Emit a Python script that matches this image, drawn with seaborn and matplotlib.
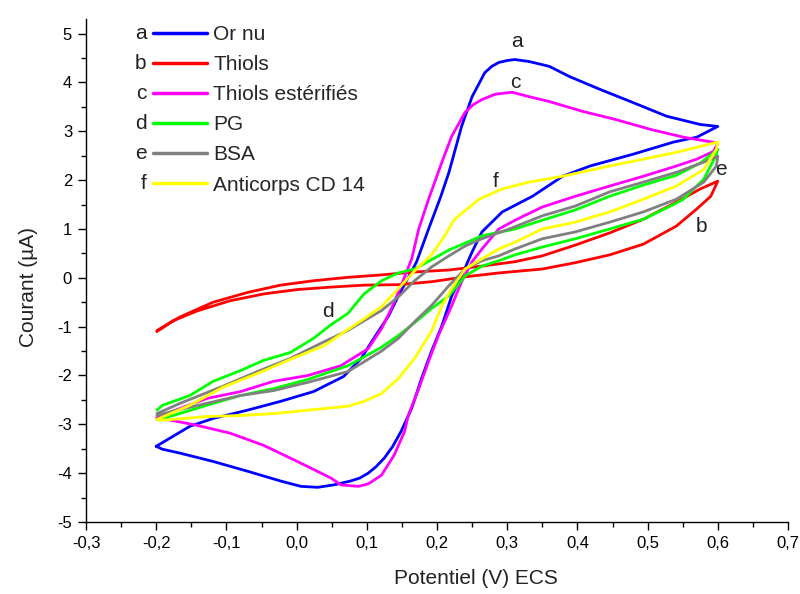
import matplotlib
matplotlib.use("Agg")
import matplotlib.pyplot as plt
from matplotlib.lines import Line2D
from matplotlib.ticker import FixedLocator, MultipleLocator, FuncFormatter
import seaborn as sns
import pandas as pd

# Cyclic voltammograms: forward sweep (-0.2 -> 0.6 V) followed by the return sweep
or_nu_v = [-0.2, -0.152, -0.119, -0.070, -0.023, 0.024, 0.067, 0.092, 0.110, 0.131, 0.145, 0.171, 0.188,
           0.205, 0.217, 0.235, 0.250, 0.260, 0.268, 0.278, 0.288, 0.300, 0.311, 0.331, 0.360, 0.389, 0.432,
           0.479, 0.527, 0.575, 0.6,
           0.570, 0.537, 0.479, 0.418, 0.379, 0.336, 0.293, 0.264, 0.250, 0.235, 0.221, 0.207, 0.192, 0.178,
           0.164, 0.149, 0.137, 0.125, 0.113, 0.102, 0.090, 0.077, 0.053, 0.030, 0.006, -0.023, -0.070, -0.119,
           -0.166, -0.191, -0.2]
or_nu_i = [-3.45, -3.04, -2.88, -2.71, -2.53, -2.33, -2.02, -1.65, -1.24, -0.78, -0.37, 0.33, 1.00,
           1.65, 2.16, 3.10, 3.71, 3.98, 4.20, 4.33, 4.41, 4.45, 4.47, 4.43, 4.33, 4.12, 3.86,
           3.59, 3.31, 3.14, 3.10,
           2.88, 2.78, 2.53, 2.29, 2.08, 1.67, 1.35, 0.94, 0.53, 0.04, -0.37, -0.98, -1.51, -2.06,
           -2.67, -3.14, -3.45, -3.69, -3.87, -4.00, -4.10, -4.16, -4.24, -4.29, -4.27, -4.16, -3.96, -3.76,
           -3.59, -3.51, -3.45]

thiols_v = [-0.199, -0.166, -0.119, -0.070, -0.023, 0.024, 0.073, 0.121, 0.168, 0.217, 0.264, 0.311, 0.350,
            0.397, 0.446, 0.494, 0.541, 0.575, 0.6,
            0.590, 0.570, 0.541, 0.494, 0.446, 0.397, 0.350, 0.288, 0.240, 0.192, 0.145, 0.096, 0.049,
            0.001, -0.047, -0.095, -0.142, -0.176, -0.199]
thiols_i = [-1.08, -0.80, -0.50, -0.30, -0.15, -0.06, 0.01, 0.06, 0.12, 0.16, 0.24, 0.33, 0.45,
            0.67, 0.92, 1.20, 1.55, 1.82, 1.98,
            1.67, 1.41, 1.06, 0.69, 0.47, 0.31, 0.18, 0.10, 0.02, -0.08, -0.14, -0.15, -0.19,
            -0.24, -0.33, -0.47, -0.68, -0.88, -1.10]

ester_v = [-0.199, -0.176, -0.128, -0.080, -0.033, 0.016, 0.063, 0.102, 0.121, 0.135, 0.149, 0.164, 0.174,
           0.188, 0.207, 0.221, 0.240, 0.252, 0.264, 0.283, 0.307, 0.331, 0.360, 0.407, 0.455, 0.504, 0.551,
           0.6,
           0.594, 0.570, 0.541, 0.494, 0.446, 0.397, 0.350, 0.314, 0.288, 0.264, 0.250, 0.235, 0.221, 0.202,
           0.188, 0.174, 0.159, 0.154, 0.139, 0.121, 0.102, 0.088, 0.063, 0.049, 0.001, -0.047, -0.095,
           -0.142, -0.199]
ester_i = [-2.88, -2.73, -2.47, -2.33, -2.12, -2.00, -1.80, -1.45, -1.04, -0.63, -0.16, 0.39, 1.00,
           1.61, 2.37, 2.90, 3.39, 3.55, 3.65, 3.76, 3.80, 3.71, 3.61, 3.41, 3.24, 3.04, 2.88,
           2.76,
           2.59, 2.43, 2.29, 2.08, 1.88, 1.67, 1.45, 1.20, 1.00, 0.59, 0.33, -0.08, -0.57, -1.18,
           -1.71, -2.27, -2.82, -3.14, -3.63, -4.04, -4.22, -4.27, -4.24, -4.10, -3.76, -3.43, -3.18,
           -3.02, -2.86]

pg_v = [-0.199, -0.191, -0.152, -0.119, -0.080, -0.047, -0.009, 0.024, 0.049, 0.073, 0.096, 0.121, 0.145,
        0.168, 0.192, 0.217, 0.240, 0.264, 0.311, 0.350, 0.397, 0.446, 0.494, 0.541, 0.575, 0.6,
        0.597, 0.580, 0.551, 0.541, 0.494, 0.446, 0.397, 0.350, 0.311, 0.288, 0.264, 0.240, 0.217, 0.192,
        0.168, 0.145, 0.121, 0.096, 0.073, 0.016, -0.033, -0.080, -0.128, -0.176, -0.199]
pg_i = [-2.71, -2.61, -2.41, -2.12, -1.90, -1.69, -1.53, -1.24, -0.96, -0.73, -0.33, -0.06, 0.10,
        0.18, 0.37, 0.57, 0.71, 0.86, 1.00, 1.18, 1.39, 1.67, 1.90, 2.10, 2.35, 2.63,
        2.49, 2.02, 1.61, 1.53, 1.20, 1.00, 0.80, 0.63, 0.47, 0.35, 0.24, 0.04, -0.37, -0.63,
        -0.92, -1.18, -1.42, -1.62, -1.80, -2.08, -2.27, -2.41, -2.61, -2.82, -2.90]

bsa_v = [-0.199, -0.166, -0.105, -0.056, -0.009, 0.039, 0.073, 0.096, 0.121, 0.145, 0.168, 0.192, 0.217,
         0.240, 0.264, 0.303, 0.350, 0.397, 0.446, 0.494, 0.541, 0.580, 0.6,
         0.598, 0.580, 0.541, 0.494, 0.446, 0.397, 0.350, 0.311, 0.288, 0.264, 0.240, 0.217, 0.192, 0.168,
         0.145, 0.121, 0.096, 0.073, 0.016, -0.033, -0.080, -0.128, -0.176, -0.199]
bsa_i = [-2.78, -2.57, -2.22, -1.92, -1.65, -1.31, -1.08, -0.88, -0.67, -0.39, -0.06, 0.22, 0.45,
         0.65, 0.80, 1.00, 1.27, 1.47, 1.76, 1.96, 2.16, 2.37, 2.49,
         2.29, 1.96, 1.61, 1.35, 1.14, 0.94, 0.80, 0.59, 0.45, 0.35, 0.18, -0.16, -0.57, -0.90,
         -1.24, -1.50, -1.72, -1.92, -2.14, -2.31, -2.41, -2.57, -2.73, -2.82]

cd14_v = [-0.199, -0.152, -0.105, -0.056, -0.009, 0.039, 0.073, 0.096, 0.121, 0.145, 0.168, 0.192, 0.211,
          0.225, 0.260, 0.293, 0.331, 0.379, 0.446, 0.494, 0.541, 0.6,
          0.598, 0.580, 0.541, 0.494, 0.446, 0.397, 0.350, 0.311, 0.288, 0.264, 0.240, 0.221, 0.207, 0.192,
          0.168, 0.145, 0.121, 0.096, 0.073, 0.016, -0.033, -0.080, -0.128, -0.195]
cd14_i = [-2.90, -2.61, -2.24, -1.96, -1.67, -1.39, -1.06, -0.84, -0.59, -0.22, 0.14, 0.47, 0.86,
          1.20, 1.61, 1.82, 1.96, 2.08, 2.29, 2.43, 2.57, 2.78,
          2.63, 2.22, 1.88, 1.61, 1.35, 1.14, 1.00, 0.73, 0.59, 0.39, 0.18, -0.22, -0.57, -1.10,
          -1.65, -2.06, -2.37, -2.53, -2.63, -2.71, -2.78, -2.82, -2.84, -2.92]

letters = ["a", "b", "c", "d", "e", "f"]
names = ["Or nu", "Thiols", "Thiols estérifiés", "PG", "BSA", "Anticorps CD 14"]
colors = ["#0000FF", "#FF0000", "#FF00FF", "#00FF00", "#808080", "#FFFF00"]
curves_v = [or_nu_v, thiols_v, ester_v, pg_v, bsa_v, cd14_v]
curves_i = [or_nu_i, thiols_i, ester_i, pg_i, bsa_i, cd14_i]

# letter tags placed next to the curves
tag_v = [0.314, 0.577, 0.311, 0.044, 0.605, 0.283]
tag_i = [4.84, 1.06, 4.00, -0.69, 2.22, 1.98]

x_ticks = [-0.3, -0.2, -0.1, 0.0, 0.1, 0.2, 0.3, 0.4, 0.5, 0.6, 0.7]
y_ticks = [-5, -4, -3, -2, -1, 0, 1, 2, 3, 4, 5]

frames = []
for name, v, i in zip(names, curves_v, curves_i):
    frames.append(pd.DataFrame({"V": v, "I": i, "curve": name}))
df = pd.concat(frames, ignore_index=True)

sns.set_theme(style="ticks")
plt.rcParams["font.family"] = ["Liberation Sans", "DejaVu Sans"]

fig = plt.figure(figsize=(8.0, 5.94), dpi=100)
ax = fig.add_axes([86 / 800, 72 / 594, 702 / 800, 503 / 594])

sns.lineplot(data=df, x="V", y="I", hue="curve", hue_order=names, palette=colors,
             sort=False, estimator=None, units="curve", linewidth=2.0, legend=False, ax=ax)

ax.set_xlim(-0.3, 0.7)
ax.set_ylim(-5, 5.3)
ax.xaxis.set_major_locator(FixedLocator(x_ticks))
ax.xaxis.set_minor_locator(MultipleLocator(0.05))
ax.yaxis.set_major_locator(FixedLocator(y_ticks))
ax.yaxis.set_minor_locator(MultipleLocator(0.5))
ax.xaxis.set_major_formatter(FuncFormatter(lambda x, p: f"{x:.1f}".replace(".", ",")))
ax.yaxis.set_major_formatter(FuncFormatter(lambda y, p: f"{y:.0f}"))

for side in ["top", "right"]:
    ax.spines[side].set_visible(False)
for side in ["left", "bottom"]:
    ax.spines[side].set_linewidth(1.0)
    ax.spines[side].set_color("black")
ax.tick_params(which="major", direction="out", length=6, width=1.0, labelsize=12, colors="black", pad=4)
ax.tick_params(which="minor", direction="out", length=3.5, width=1.0, colors="black")

ax.set_xlabel("Potentiel (V) ECS", fontsize=15, color="#222222")
ax.set_ylabel("Courant (µA)", fontsize=15, color="#222222")
ax.xaxis.set_label_coords((476 - 86) / 702, -0.093)
ax.yaxis.set_label_coords(-0.068, 0.467)

for t, v, i in zip(letters, tag_v, tag_i):
    ax.text(v, i, t, fontsize=15, ha="center", va="center", color="#222222")

handles = [Line2D([0], [0], color=c, linewidth=2.5) for c in colors]
leg = ax.legend(handles, names, loc="upper left", bbox_to_anchor=((218 - 86) / 702 - 0.105, 1.004),
                frameon=False, fontsize=15, handlelength=2.6, handletextpad=0.3,
                labelspacing=0.53, borderaxespad=0.0)

# letters in front of each legend entry
fig.canvas.draw()
renderer = fig.canvas.get_renderer()
for h, t in zip(leg.legend_handles, letters):
    bb = h.get_window_extent(renderer)
    x = (bb.x0 - 6) / fig.bbox.width
    y = (bb.y0 + bb.y1) / 2 / fig.bbox.height
    fig.text(x, y, t, fontsize=15, ha="right", va="center", color="#222222")

fig.savefig("out.png", dpi=100)
